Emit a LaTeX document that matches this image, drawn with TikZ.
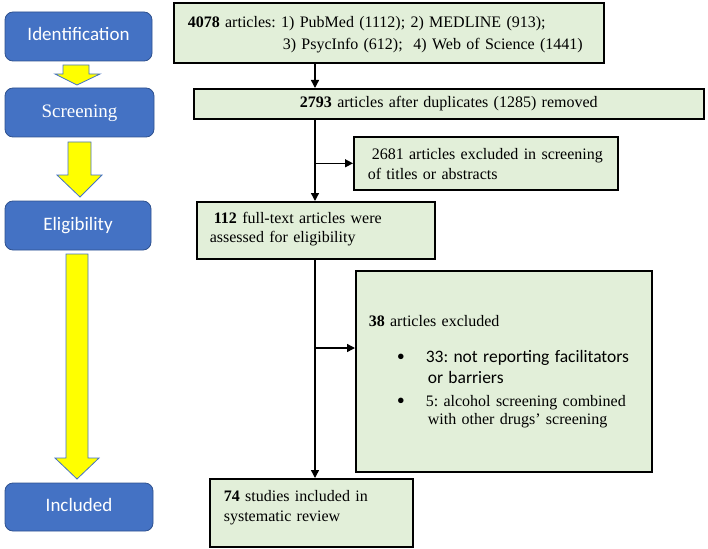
\documentclass[tikz,border=0pt]{standalone}
\usepackage{fontspec}
\setmainfont{Liberation Serif}
\newfontfamily\carlito{Carlito}
\usetikzlibrary{arrows.meta}
\definecolor{bluefill}{HTML}{4472C4}
\definecolor{blueline}{HTML}{2F528F}
\definecolor{greenfill}{HTML}{E2EFD9}
\definecolor{yel}{HTML}{FFFF00}
\newcommand{\bigbul}{\makebox[29pt][l]{\raisebox{-1.5pt}{\fontsize{23}{23}\selectfont\textbullet}}}
\begin{document}
\frenchspacing
\begin{tikzpicture}[x=1pt,y=-1pt,
  stage/.style={draw=blueline, line width=0.8pt, fill=bluefill, rounded corners=8pt,
    text=white, font=\carlito\fontsize{19}{23}\selectfont, inner sep=0pt},
  gbox/.style={draw=black, line width=1.6pt, fill=greenfill,
    font=\fontsize{16}{21}\selectfont, inner ysep=0pt, inner xsep=4pt,
    align=left, anchor=north west},
  yarrow/.style={draw=bluefill, line width=0.8pt, fill=yel},
  conn/.style={line width=1.4pt, -{Triangle[length=8pt,width=8pt]}},
]
\useasboundingbox (0,0) rectangle (708,548);

% stage boxes
\node[stage, minimum width=147pt, minimum height=49pt] (id) at (78.5,36.5)
  {\raisebox{3pt}[\height][\depth]{Identification}};
\node[stage, minimum width=149pt, minimum height=49pt] (scr) at (79.5,112.5)
  {\rmfamily\raisebox{-1pt}[\height][\depth]{Screening}};
\node[stage, minimum width=146pt, minimum height=49pt] (elig) at (78,225.5) {Eligibility};
\node[stage, minimum width=148pt, minimum height=48pt] (incl) at (79,507)
  {\raisebox{2pt}[\height][\depth]{Included}};

% yellow arrows
\draw[yarrow] (63,65) -- (89,65) -- (89,74) -- (100,74) -- (77,85) -- (55,74) -- (63,74) -- cycle;
\draw[yarrow] (68,142) -- (91,142) -- (91,175) -- (102,175) -- (80,197) -- (57,175) -- (68,175) -- cycle;
\draw[yarrow] (66,254) -- (88,254) -- (88,458) -- (99,458) -- (77,479) -- (55,458) -- (66,458) -- cycle;

% green boxes
\node[gbox, minimum width=430pt, minimum height=60pt, text width=422pt,
      text height=24.5pt, text depth=35.5pt, font=\fontsize{16}{22}\selectfont] (b1) at (173,2)
  {\hspace*{10pt}\makebox[366pt][s]{\textbf{4078} articles: 1) PubMed (1112); 2) MEDLINE (913);}\\
   \hspace*{105pt}3) PsycInfo (612);~ 4) Web of Science (1441)};
\node[gbox, minimum width=510pt, minimum height=30pt, text width=502pt, align=center] (b2) at (193,88)
  {\textbf{2793} articles after duplicates (1285) removed};
\node[gbox, minimum width=264pt, minimum height=53pt, text width=256pt,
      text height=23pt, text depth=30pt, font=\fontsize{16}{20}\selectfont] (b3) at (353,136)
  {\hspace*{14pt}2681 articles excluded in screening\\
   \hspace*{10pt}of titles or abstracts};
\node[gbox, minimum width=238pt, minimum height=57pt, text width=230pt,
      text height=22pt, text depth=35pt, font=\fontsize{16}{19}\selectfont] (b4) at (196,201)
  {\hspace*{13pt}\textbf{112} full-text articles were\\
   \hspace*{9pt}assessed for eligibility};
\node[gbox, minimum width=296pt, minimum height=201pt, text width=288pt,
      text height=56pt, text depth=145pt] (b5) at (355,270)
  {\hspace*{9pt}\textbf{38} articles excluded\\[15pt]
   \hspace*{37pt}\bigbul{\carlito\fontsize{17.5}{21}\selectfont 33: not reporting facilitators}\\
   \hspace*{68pt}{\carlito\fontsize{17.5}{21}\selectfont or barriers}\\[2pt]
   \hspace*{37pt}\bigbul 5: alcohol screening combined\\[-3pt]
   \hspace*{68pt}with other drugs’ screening};
\node[gbox, minimum width=203pt, minimum height=68pt, text width=195pt,
      text height=23pt, text depth=45pt, font=\fontsize{16}{20}\selectfont] (b6) at (209,478)
  {\hspace*{10pt}\textbf{74} studies included in\\
   \hspace*{10pt}systematic review};

% connectors
\coordinate (t) at (315,0);
\coordinate (j2) at (315,348);
\draw[conn] (b1.south -| t) -- (b2.north -| t);
\draw[conn] (b2.south -| t) -- (b4.north -| t);
\draw[conn] (b3.west -| t) -- (b3.west);
\draw[conn] (b4.south -| t) -- (b6.north -| t);
\draw[conn] (j2) -- (j2 -| b5.west);
\end{tikzpicture}
\end{document}
